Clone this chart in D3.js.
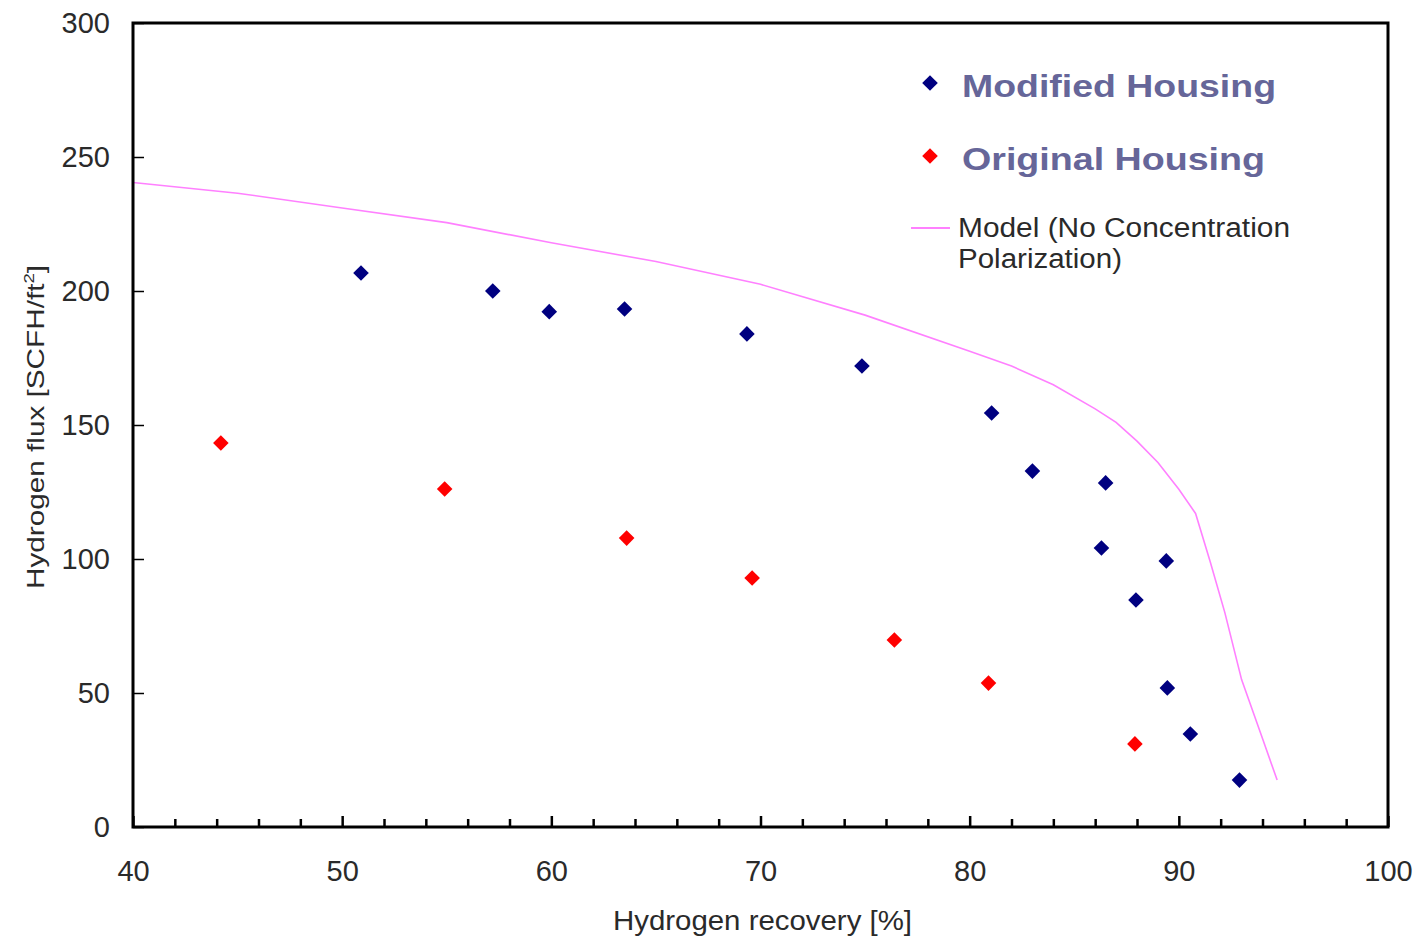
<!DOCTYPE html>
<html><head><meta charset="utf-8">
<script src="https://cdn.jsdelivr.net/npm/d3@7"></script>
<style>body{margin:0;background:#fff;} text{font-family:"Liberation Sans",Arial,sans-serif;}</style>
</head><body>
<svg id="c" width="1416" height="936"></svg>
<script>
// Data
const modifiedX = [50.9, 57.2, 59.9, 63.5, 69.35, 74.85, 81.05, 83.0, 86.5, 86.3, 89.4, 87.95, 89.45, 90.55, 92.9];
const modifiedY = [206.7, 200.0, 192.3, 193.3, 184.0, 172.0, 154.5, 132.8, 128.4, 104.1, 99.3, 84.7, 51.9, 34.7, 17.5];
const originalX = [44.2, 54.9, 63.6, 69.6, 76.4, 80.9, 87.9];
const originalY = [143.3, 126.1, 107.8, 92.9, 69.8, 53.7, 31.0];
const modelX = [40, 45, 50, 55, 60, 65, 70, 75, 80, 82, 84, 86, 87, 88, 89, 90, 90.8, 91.5, 92.2, 93, 94, 94.7];
const modelY = [240.5, 236.5, 231, 225.5, 218, 211, 202.5, 191, 177.5, 172, 165, 156, 151, 144, 136, 126, 117, 99, 80, 55, 33, 17.5];
const xTicks = d3.range(40, 101, 2);
const yTicks = [0, 50, 100, 150, 200, 250, 300];
const xLabels = [40, 50, 60, 70, 80, 90, 100];
const legendItems = ["Modified Housing", "Original Housing"];
const modelLegend = ["Model (No Concentration", "Polarization)"];

const svg = d3.select("#c");
const L = 133, R = 1388, T = 23, B = 827;
const x = d3.scaleLinear().domain([40, 100]).range([L, R]);
const y = d3.scaleLinear().domain([0, 300]).range([B, T]);
const txt = "#2a2a2a";

// model line
svg.append("path")
  .datum(modelX.map((v, i) => [v, modelY[i]]))
  .attr("d", d3.line().x(d => x(d[0])).y(d => y(d[1])))
  .attr("fill", "none").attr("stroke", "#ff80ff").attr("stroke-width", 1.6);

// markers
const diamond = d3.symbol().type(d3.symbolDiamond2).size(155);
svg.append("g").selectAll("path").data(modifiedX.map((v, i) => [v, modifiedY[i]])).join("path")
  .attr("d", diamond).attr("transform", d => `translate(${x(d[0])},${y(d[1])})`).attr("fill", "#000080");
svg.append("g").selectAll("path").data(originalX.map((v, i) => [v, originalY[i]])).join("path")
  .attr("d", diamond).attr("transform", d => `translate(${x(d[0])},${y(d[1])})`).attr("fill", "#ff0000");

// x axis
const gx = svg.append("g").attr("transform", `translate(0,${B})`)
  .call(d3.axisBottom(x).tickValues(xTicks).tickSizeInner(-8).tickSizeOuter(0).tickPadding(33)
    .tickFormat(d => xLabels.includes(d) ? d : ""));
gx.select(".domain").remove();
gx.selectAll(".tick line").attr("stroke", "#000").attr("stroke-width", 2.5)
  .attr("y2", d => xLabels.includes(d) ? -11 : -8);
gx.selectAll(".tick text").attr("font-size", 29).attr("fill", txt).attr("font-family", "Liberation Sans, Arial, sans-serif");

// y axis
const gy = svg.append("g").attr("transform", `translate(${L},0)`)
  .call(d3.axisLeft(y).tickValues(yTicks).tickSizeInner(-11).tickSizeOuter(0).tickPadding(23));
gy.select(".domain").remove();
gy.selectAll(".tick line").attr("stroke", "#000").attr("stroke-width", 1.5);
gy.selectAll(".tick text").attr("font-size", 29).attr("fill", txt).attr("font-family", "Liberation Sans, Arial, sans-serif");

// frame
svg.append("rect").attr("x", L).attr("y", T).attr("width", R - L).attr("height", B - T)
  .attr("fill", "none").attr("stroke", "#000").attr("stroke-width", 3);

// axis titles
svg.append("text").attr("x", 613).attr("y", 930).attr("font-size", 27).attr("fill", txt)
  .attr("textLength", 299).attr("lengthAdjust", "spacingAndGlyphs")
  .text("Hydrogen recovery [%]");
const yt = svg.append("text").attr("transform", "translate(44,589) rotate(-90)")
  .attr("font-size", 24).attr("fill", txt).attr("textLength", 324).attr("lengthAdjust", "spacingAndGlyphs");
yt.append("tspan").text("Hydrogen flux [SCFH/ft");
yt.append("tspan").attr("font-size", 15).attr("dy", -10).text("2");
yt.append("tspan").attr("dy", 10).text("]");

// legend
const legColors = ["#000080", "#ff0000"];
const legY = [83, 156];
const legW = [314, 303];
legendItems.forEach((t, i) => {
  svg.append("path").attr("d", diamond).attr("transform", `translate(930,${legY[i]})`).attr("fill", legColors[i]);
  svg.append("text").attr("x", 962).attr("y", legY[i] + 14).attr("font-size", 32).attr("font-weight", "bold")
    .attr("fill", "#666699").attr("textLength", legW[i]).attr("lengthAdjust", "spacingAndGlyphs").text(t);
});
svg.append("line").attr("x1", 911).attr("x2", 950).attr("y1", 228).attr("y2", 228)
  .attr("stroke", "#ff80ff").attr("stroke-width", 2);
const mw = [332, 164];
modelLegend.forEach((t, i) => {
  svg.append("text").attr("x", 958).attr("y", 237 + i * 31).attr("font-size", 27).attr("fill", txt)
    .attr("textLength", mw[i]).attr("lengthAdjust", "spacingAndGlyphs").text(t);
});
</script>
</body></html>
